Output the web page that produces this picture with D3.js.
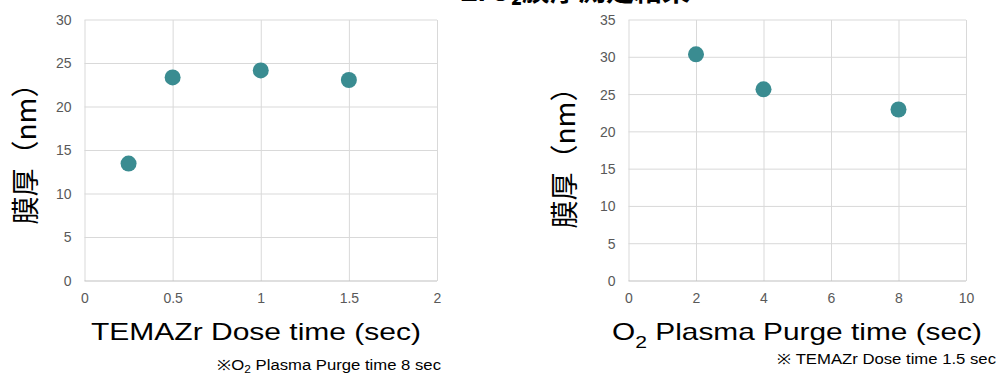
<!DOCTYPE html>
<html>
<head>
<meta charset="utf-8">
<script src="https://cdn.jsdelivr.net/npm/d3@7"></script>
<style>
  body { margin: 0; background: #fff; }
  svg { display: block; }
</style>
</head>
<body>
<script>
// chart values
const doseTime = [0.25, 0.5, 1, 1.5];
const doseThickness = [13.5, 23.4, 24.2, 23.1];
const purgeTime = [2, 4, 8];
const purgeThickness = [30.4, 25.7, 23.0];

const doseXTicks = [0, 0.5, 1, 1.5, 2];
const doseYTicks = [0, 5, 10, 15, 20, 25, 30];
const purgeXTicks = [0, 2, 4, 6, 8, 10];
const purgeYTicks = [0, 5, 10, 15, 20, 25, 30, 35];

const W = 997, H = 374;
const dotColor = "#3a8c91";
const gridColor = "#d9d9d9";
const tickColor = "#595959";
const baseFont = "'Liberation Sans', Arial, sans-serif";
const cjkFont = "'Noto Sans CJK JP', 'Noto Sans', sans-serif";

const svg = d3.select("body").append("svg")
    .attr("width", W)
    .attr("height", H);

// title, cut off at the top edge of the picture
svg.append("text")
    .attr("x", 690)
    .attr("y", 1)
    .attr("text-anchor", "end")
    .attr("font-family", cjkFont)
    .attr("font-weight", "bold")
    .attr("font-size", 28)
    .attr("fill", "#000")
    .text("ZrO₂膜厚測定結果");

function drawPanel(cfg) {
    const x = d3.scaleLinear().domain(cfg.xDomain).range([cfg.left, cfg.right]);
    const y = d3.scaleLinear().domain(cfg.yDomain).range([281, 20]);

    const g = svg.append("g");

    // vertical grid lines
    g.append("g")
        .attr("transform", `translate(0,20)`)
        .call(d3.axisBottom(x).tickValues(cfg.xTicks).tickSize(261).tickFormat(""))
        .call(a => a.select(".domain").remove())
        .call(a => a.selectAll("line").attr("stroke", gridColor));

    // y labels
    g.append("g")
        .attr("transform", `translate(${cfg.left},0)`)
        .call(d3.axisLeft(y).tickValues(cfg.yTicks).tickSize(0).tickPadding(13).tickFormat(d => String(d)))
        .call(a => a.select(".domain").remove())
        .call(a => a.selectAll("text")
            .attr("fill", tickColor)
            .attr("font-family", baseFont)
            .attr("font-size", 14));

    // horizontal grid lines, the bottom one is the axis
    g.append("g")
        .selectAll("line")
        .data(cfg.yTicks)
        .join("line")
        .attr("x1", cfg.left)
        .attr("x2", cfg.right)
        .attr("y1", d => y(d))
        .attr("y2", d => y(d))
        .attr("stroke", d => d == 0 ? "#bfbfbf" : gridColor)
        .attr("stroke-width", 1);

    // x labels
    g.append("g")
        .attr("transform", `translate(0,281)`)
        .call(d3.axisBottom(x).tickValues(cfg.xTicks).tickSize(0).tickPadding(12).tickFormat(d => String(d)))
        .call(a => a.select(".domain").remove())
        .call(a => a.selectAll("text")
            .attr("fill", tickColor)
            .attr("font-family", baseFont)
            .attr("font-size", 14));

    // points
    g.append("g")
        .selectAll("circle")
        .data(cfg.xs.map((v, i) => [v, cfg.ys[i]]))
        .join("circle")
        .attr("cx", d => x(d[0]))
        .attr("cy", d => y(d[1]))
        .attr("r", 8)
        .attr("fill", dotColor);

    // y title
    g.append("text")
        .attr("transform", `translate(${cfg.yTitleX},${cfg.yTitleY}) rotate(-90)`)
        .attr("text-anchor", "middle")
        .attr("dominant-baseline", "central")
        .attr("font-family", cjkFont)
        .attr("font-size", 28)
        .attr("fill", "#000")
        .text("膜厚（nm）");

    // x title
    const xt = g.append("text")
        .attr("x", cfg.xTitleX)
        .attr("y", 340)
        .attr("text-anchor", "middle")
        .attr("font-family", baseFont)
        .attr("font-size", 24)
        .attr("fill", "#000")
        .attr("textLength", cfg.xTitleLen)
        .attr("lengthAdjust", "spacingAndGlyphs");
    cfg.xTitle(xt);

    // footnote
    const ft = g.append("text")
        .attr("x", cfg.noteX)
        .attr("y", cfg.noteY)
        .attr("font-family", baseFont)
        .attr("font-size", 14)
        .attr("fill", "#000")
        .attr("textLength", cfg.noteLen)
        .attr("lengthAdjust", "spacingAndGlyphs");
    cfg.note(ft);
}

drawPanel({
    left: 84.5, right: 437,
    xDomain: [0, 2], yDomain: [0, 30],
    xTicks: doseXTicks, yTicks: doseYTicks,
    xs: doseTime, ys: doseThickness,
    yTitleX: 24, yTitleY: 147,
    xTitleX: 256, xTitleLen: 330,
    xTitle: t => t.text("TEMAZr Dose time (sec)"),
    noteX: 217, noteY: 370, noteLen: 224,
    note: t => {
        t.append("tspan").text("※O");
        t.append("tspan").attr("font-size", 10).attr("dy", 3).text("2");
        t.append("tspan").attr("dy", -3).text(" Plasma Purge time 8 sec");
    }
});

drawPanel({
    left: 628.5, right: 966,
    xDomain: [0, 10], yDomain: [0, 35],
    xTicks: purgeXTicks, yTicks: purgeYTicks,
    xs: purgeTime, ys: purgeThickness,
    yTitleX: 563, yTitleY: 151,
    xTitleX: 797, xTitleLen: 370,
    xTitle: t => {
        t.append("tspan").text("O");
        t.append("tspan").attr("font-size", 17).attr("dy", 8).text("2");
        t.append("tspan").attr("dy", -8).text(" Plasma Purge time (sec)");
    },
    noteX: 777, noteY: 364, noteLen: 219,
    note: t => t.text("※ TEMAZr Dose time 1.5 sec")
});
</script>
</body>
</html>
